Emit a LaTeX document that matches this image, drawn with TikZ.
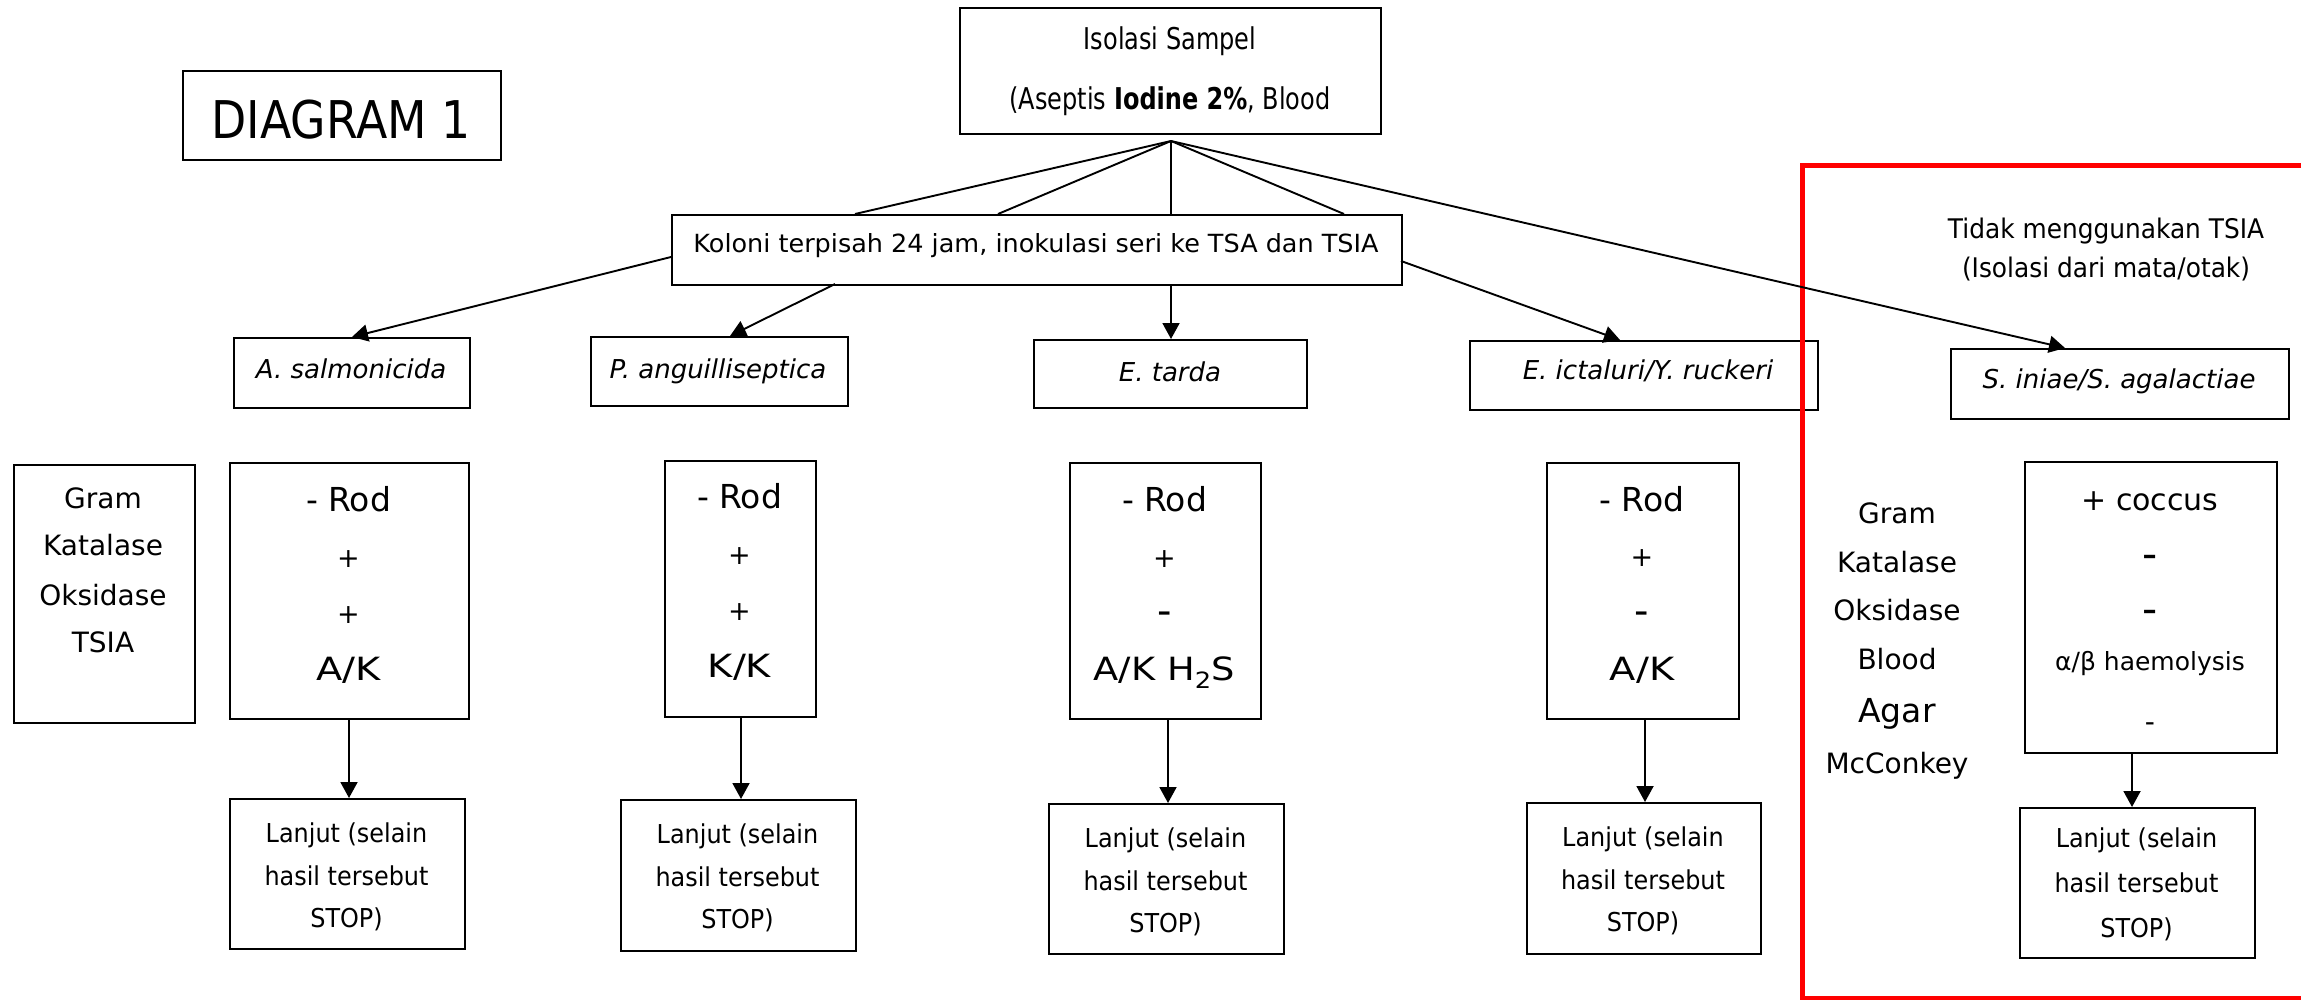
\documentclass[tikz,border=0pt]{standalone}
\usepackage{fontspec}
\setmainfont{DejaVu Sans}
\usepackage{graphicx}
\usetikzlibrary{arrows.meta}
\newcommand\myfs[1]{\fontsize{#1}{#1}\selectfont}
\newcommand\sx[2]{\scalebox{#1}[1]{#2}}
\begin{document}
\begin{tikzpicture}[x=1pt,y=-1pt,
  bx/.style={draw, line width=1.9pt, rectangle, inner sep=0pt, anchor=north west},
  tx/.style={inner sep=0pt, anchor=base, align=center},
  sy/.style={inner sep=0pt, anchor=center},
  con/.style={line width=1.9pt},
  arr/.style={line width=1.9pt, -{Triangle[width=17pt,length=16pt]}},
  sp/.style={tx, font=\myfs{26}\itshape},
  lj/.style={tx, font=\myfs{26}},
  lab/.style={tx, font=\myfs{28}},
]
\useasboundingbox (0,0) rectangle (2301,1000);

% boxes
\node[bx, minimum width=421pt, minimum height=126pt] (iso) at (959,7) {};
\node[bx, minimum width=318pt, minimum height=89pt] (diag) at (182,70) {};
\node[bx, minimum width=730pt, minimum height=70pt] (kol) at (671,214) {};
\node[bx, minimum width=236pt, minimum height=70pt] (sp1) at (233,337) {};
\node[bx, minimum width=257pt, minimum height=69pt] (sp2) at (590,336) {};
\node[bx, minimum width=273pt, minimum height=68pt] (sp3) at (1033,339) {};
\node[bx, minimum width=348pt, minimum height=69pt] (sp4) at (1469,340) {};
\node[bx, minimum width=338pt, minimum height=70pt] (sp5) at (1950,348) {};
\node[bx, minimum width=181pt, minimum height=258pt] (gl) at (13,464) {};
\node[bx, minimum width=239pt, minimum height=256pt] (b1) at (229,462) {};
\node[bx, minimum width=151pt, minimum height=256pt] (b2) at (664,460) {};
\node[bx, minimum width=191pt, minimum height=256pt] (b3) at (1069,462) {};
\node[bx, minimum width=192pt, minimum height=256pt] (b4) at (1546,462) {};
\node[bx, minimum width=252pt, minimum height=291pt] (b5) at (2024,461) {};
\node[bx, minimum width=235pt, minimum height=150pt] (l1) at (229,798) {};
\node[bx, minimum width=235pt, minimum height=151pt] (l2) at (620,799) {};
\node[bx, minimum width=235pt, minimum height=150pt] (l3) at (1048,803) {};
\node[bx, minimum width=234pt, minimum height=151pt] (l4) at (1526,802) {};
\node[bx, minimum width=235pt, minimum height=150pt] (l5) at (2019,807) {};

% red frame
\draw[red, line width=5pt] (2330,166) -- (1802,166) -- (1802,998) -- (2330,998);

% texts
\node[tx] (iso1) at (1170,50) {\myfs{30}\sx{0.8}{Isolasi Sampel}};
\node[tx] (iso2) at (1170,110) {\myfs{30}\sx{0.8}{(Aseptis \textbf{Iodine 2\%}, Blood}};
\node[tx] (diagt) at (341,139) {\myfs{52}\sx{0.88}{DIAGRAM 1}};
\node[tx] (kolt) at (1036,253) {\myfs{25}\sx{1.02}{Koloni terpisah 24 jam, inokulasi seri ke TSA dan TSIA}};
\node[sp] (sp1t) at (351,378) {A. salmonicida};
\node[sp] (sp2t) at (718,378) {P. anguilliseptica};
\node[sp] (sp3t) at (1170,381) {E. tarda};
\node[sp] (sp4t) at (1648,379) {E. ictaluri/Y. ruckeri};
\node[sp] (sp5t) at (2119,388) {S. iniae/S. agalactiae};

\node[tx] (tid1) at (2106,239) {\myfs{27}\sx{0.92}{Tidak menggunakan TSIA}};
\node[tx] (tid2) at (2106,277) {\myfs{27}\sx{0.92}{(Isolasi dari mata/otak)}};

% left label box
\node[lab] (g1) at (103,508) {Gram};
\node[lab] (g2) at (103,555) {Katalase};
\node[lab] (g3) at (103,605) {Oksidase};
\node[lab] (g4) at (103,652) {TSIA};

% right labels
\node[lab] (r1) at (1897,523) {Gram};
\node[lab] (r2) at (1897,572) {Katalase};
\node[lab] (r3) at (1897,620) {Oksidase};
\node[lab] (r4) at (1897,669) {Blood};
\node[tx, font=\myfs{33}] (r5) at (1897,722) {Agar};
\node[lab] (r6) at (1897,773) {McConkey};

% result box 1
\node[tx] (b1a) at (348.5,511) {\myfs{33}- Rod};
\node[sy] (b1b) at (348.5,559) {\myfs{27}+};
\node[sy] (b1c) at (348.5,615) {\myfs{27}+};
\node[tx] (b1d) at (348.5,680) {\myfs{32}\sx{1.2}{A/K}};
% result box 2
\node[tx] (b2a) at (739.5,508) {\myfs{33}- Rod};
\node[sy] (b2b) at (739.5,556) {\myfs{27}+};
\node[sy] (b2c) at (739.5,612) {\myfs{27}+};
\node[tx] (b2d) at (739.5,677) {\myfs{32}\sx{1.2}{K/K}};
% result box 3
\node[tx] (b3a) at (1164.5,511) {\myfs{33}- Rod};
\node[sy] (b3b) at (1164.5,559) {\myfs{27}+};
\node[tx] (b3c) at (1164.5,624) {\myfs{40}-};
\node[tx] (b3d) at (1164.5,680) {\myfs{32}\sx{1.15}{A/K H\textsubscript{2}S}};
% result box 4
\node[tx] (b4a) at (1642,511) {\myfs{33}- Rod};
\node[sy] (b4b) at (1642,558) {\myfs{27}+};
\node[tx] (b4c) at (1642,624) {\myfs{40}-};
\node[tx] (b4d) at (1642,680) {\myfs{32}\sx{1.2}{A/K}};
% result box 5
\node[tx] (b5a) at (2150,510) {\myfs{30}+ coccus};
\node[tx] (b5b) at (2150,568) {\myfs{42}-};
\node[tx] (b5c) at (2150,623) {\myfs{42}-};
\node[tx] (b5d) at (2150,670) {\myfs{25}α/β haemolysis};
\node[tx] (b5e) at (2150,731) {\myfs{28}-};

% Lanjut texts
\node[lj] (l1a) at (346.5,842) {\sx{0.92}{Lanjut (selain}};
\node[lj] (l1b) at (346.5,885) {\sx{0.92}{hasil tersebut}};
\node[lj] (l1c) at (346.5,927) {\sx{0.92}{STOP)}};
\node[lj] (l2a) at (737.5,843) {\sx{0.92}{Lanjut (selain}};
\node[lj] (l2b) at (737.5,886) {\sx{0.92}{hasil tersebut}};
\node[lj] (l2c) at (737.5,928) {\sx{0.92}{STOP)}};
\node[lj] (l3a) at (1165.5,847) {\sx{0.92}{Lanjut (selain}};
\node[lj] (l3b) at (1165.5,890) {\sx{0.92}{hasil tersebut}};
\node[lj] (l3c) at (1165.5,932) {\sx{0.92}{STOP)}};
\node[lj] (l4a) at (1643,846) {\sx{0.92}{Lanjut (selain}};
\node[lj] (l4b) at (1643,889) {\sx{0.92}{hasil tersebut}};
\node[lj] (l4c) at (1643,931) {\sx{0.92}{STOP)}};
\node[lj] (l5a) at (2136.5,847) {\sx{0.92}{Lanjut (selain}};
\node[lj] (l5b) at (2136.5,892) {\sx{0.92}{hasil tersebut}};
\node[lj] (l5c) at (2136.5,937) {\sx{0.92}{STOP)}};

% connector points
\coordinate (fan) at (1171,141);
\coordinate (k1) at (855,214);
\coordinate (k2) at (998,214);
\coordinate (k3) at (1171,214);
\coordinate (k4) at (1344,214);
\coordinate (kw) at (671,257);
\coordinate (kb2) at (835,284);
\coordinate (kb3) at (1171,284);
\coordinate (ke) at (1401,261);
\coordinate (t2) at (730,336);
\coordinate (t3) at (1171,339);
\coordinate (t4) at (1620,340);
\coordinate (t5) at (2065,348);

\draw[con] (fan) -- (k1);
\draw[con] (fan) -- (k2);
\draw[con] (fan) -- (k3);
\draw[con] (fan) -- (k4);
\draw[arr] (fan) -- (t5);
\draw[arr] (kw) -- (sp1.north);
\draw[arr] (kb2) -- (t2);
\draw[arr] (kb3) -- (t3);
\draw[arr] (ke) -- (t4);

\coordinate (v1) at (349,718);
\coordinate (v2) at (741,716);
\coordinate (v3) at (1168,718);
\coordinate (v4) at (1645,718);
\coordinate (v5) at (2132,752);
\draw[arr] (v1) -- (v1 |- l1.north);
\draw[arr] (v2) -- (v2 |- l2.north);
\draw[arr] (v3) -- (v3 |- l3.north);
\draw[arr] (v4) -- (v4 |- l4.north);
\draw[arr] (v5) -- (v5 |- l5.north);
\end{tikzpicture}
\end{document}
